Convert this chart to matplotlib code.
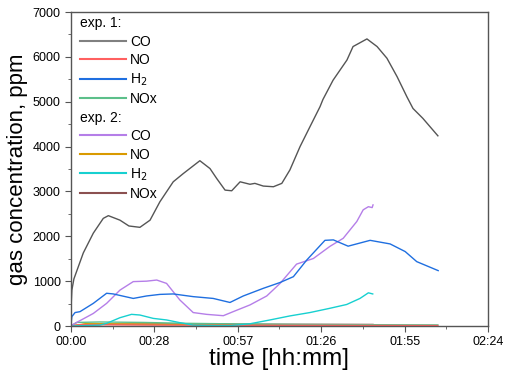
import numpy as np
import matplotlib.pyplot as plt
from matplotlib.lines import Line2D

plt.rcParams['font.family'] = ['Liberation Sans', 'DejaVu Sans']

# time in minutes
t_co1 = [0, 0.3, 1.0, 4.25, 7.7, 11.15, 12.9, 16.9, 20.0, 23.8, 27.3, 30.7, 35.3, 38.8,
         44.5, 48.0, 50.3, 53.2, 55.5, 58.4, 61.8, 63.5, 66.4, 69.9, 72.8, 75.6, 79.1,
         82.5, 86.0, 87.0, 90.5, 95.3, 97.4, 102.2, 105.7, 109.1, 112.6, 116.0, 118.1,
         121.5, 126.7]
co1 = [400, 800, 1050, 1630, 2070, 2400, 2460, 2360, 2230, 2200, 2360, 2770, 3215, 3400,
       3685, 3510, 3290, 3030, 3015, 3215, 3160, 3180, 3120, 3105, 3180, 3480, 4000,
       4440, 4890, 5050, 5480, 5930, 6230, 6400, 6230, 5970, 5560, 5110, 4850,
       4630, 4240]

t_h21 = [0, 0.3, 1.4, 3.1, 7.7, 12.3, 14.6, 21.5, 26.1, 30.7, 35.3, 42.2, 49.1, 54.9,
         59.5, 66.4, 72.2, 76.8, 81.4, 87.7, 90.6, 95.7, 103.3, 110.2, 115.4, 119.4, 126.8]
h21 = [50, 210, 300, 320, 505, 730, 715, 615, 670, 705, 715, 655, 615, 525,
       670, 840, 970, 1100, 1470, 1910, 1920, 1780, 1910, 1830, 1660, 1435, 1235]

t_no1 = [0, 3, 30, 80, 126.7]
no1 = [0, 30, 20, 15, 10]

t_nox1 = [0, 2, 10, 25, 40, 60, 80, 100, 126.7]
nox1 = [0, 80, 90, 80, 60, 45, 35, 30, 25]

t_co2 = [0, 0.25, 7.7, 12.3, 16.9, 21.5, 26.1, 29.6, 33.0, 37.6, 42.2, 46.8, 52.6, 56.0,
         61.8, 67.6, 72.2, 77.9, 83.7, 89.4, 94.0, 98.7, 100.9, 102.7, 104.0, 104.3]
co2 = [0, 20, 280, 505, 800, 990, 1000, 1025, 950, 580, 300, 260, 230, 320,
       470, 670, 950, 1380, 1505, 1775, 1955, 2330, 2590, 2660, 2640, 2700]

t_no2 = [0, 5, 30, 60, 104.3]
no2 = [0, 50, 40, 30, 20]

t_h22 = [0, 10, 12.3, 16.9, 20.9, 23.8, 28.4, 33.0, 37.6, 42.2, 50, 55, 61.8, 68.7,
         75.6, 82.5, 89.4, 95.2, 99.8, 102.7, 104.2]
h22 = [0, 20, 60, 185, 260, 245, 170, 135, 75, 20, 10, 10, 50, 135,
       225, 300, 395, 480, 615, 740, 715]

t_nox2 = [0, 5, 30, 60, 104.3]
nox2 = [0, 40, 45, 40, 35]

x_ticks = [0, 28.8, 57.6, 86.4, 115.2, 144]
x_labels = ['00:00', '00:28', '00:57', '01:26', '01:55', '02:24']

fig = plt.figure(figsize=(5.05, 3.79), dpi=100)
ax = fig.add_axes([0.1406, 0.1398, 0.8257, 0.8285])

lw = 1.0
ax.plot(t_nox2, nox2, color='#8b5050', lw=lw)
ax.plot(t_no2, no2, color='#d99a00', lw=lw)
ax.plot(t_nox1, nox1, color='#5cbf8a', lw=lw)
ax.plot(t_no1, no1, color='#ff6060', lw=lw)
ax.plot(t_h22, h22, color='#17d0d0', lw=lw)
ax.plot(t_co2, co2, color='#b57ee8', lw=lw)
ax.plot(t_h21, h21, color='#1f6fe0', lw=lw)
ax.plot(t_co1, co1, color='#555555', lw=lw)

ax.set_xlim(0, 144)
ax.set_ylim(0, 7000)
ax.set_xticks(x_ticks)
ax.set_xticklabels(x_labels)
ax.set_xticks([14.4, 43.2, 72, 100.8, 129.6], minor=True)
ax.set_yticks(np.arange(0, 7001, 1000))
ax.set_yticks(np.arange(500, 7000, 1000), minor=True)
ax.tick_params(which='both', direction='out', labelsize=9, color='#555555')
ax.tick_params(which='major', length=4)
ax.tick_params(which='minor', length=2.5)
for s in ax.spines.values():
    s.set_color('#555555')
    s.set_linewidth(1.0)

ax.set_xlabel('time [hh:mm]', fontsize=17.5, labelpad=0)
ax.set_ylabel('gas concentration, ppm', fontsize=16, labelpad=3)

blank = Line2D([], [], color='none')
handles = [blank,
           Line2D([], [], color='#808080', lw=1.5),
           Line2D([], [], color='#ff6060', lw=1.5),
           Line2D([], [], color='#1f6fe0', lw=1.5),
           Line2D([], [], color='#5cbf8a', lw=1.5),
           blank,
           Line2D([], [], color='#b57ee8', lw=1.5),
           Line2D([], [], color='#d99a00', lw=1.5),
           Line2D([], [], color='#17d0d0', lw=1.5),
           Line2D([], [], color='#8b5050', lw=1.5)]
labels = [' ', 'CO', 'NO', 'H$_2$', 'NOx', ' ', 'CO', 'NO', 'H$_2$', 'NOx']
leg = ax.legend(handles, labels, loc='upper left', bbox_to_anchor=(0.012, 1.0),
                frameon=False, fontsize=10,
                handlelength=3.3, handletextpad=0.3, labelspacing=0.32,
                borderaxespad=0.0, borderpad=0.3)

fig.canvas.draw()
r = fig.canvas.get_renderer()
hx = leg.legend_handles[1].get_window_extent(r).x0
inv = fig.transFigure.inverted()
for i, txt in [(0, 'exp. 1:'), (5, 'exp. 2:')]:
    bb = leg.get_texts()[i].get_window_extent(r)
    x, y = inv.transform((hx, (bb.y0 + bb.y1) / 2))
    fig.text(x, y, txt, fontsize=10, va='center', ha='left')

fig.savefig('out.png', dpi=100)
